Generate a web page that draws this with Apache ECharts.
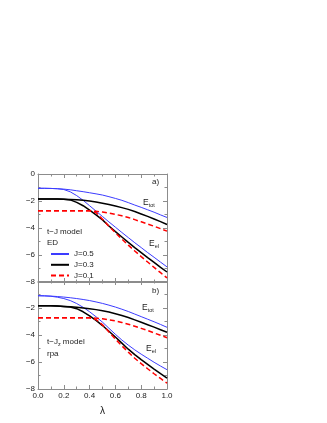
<!DOCTYPE html>
<html>
<head>
<meta charset="utf-8">
<script src="https://cdn.jsdelivr.net/npm/echarts@6/dist/echarts.min.js"></script>
<style>
  html, body { margin: 0; padding: 0; background: #fff; }
  #chart { width: 327px; height: 423px; }
</style>
</head>
<body>
<div id="chart"></div>
<script>
// lambda grid shared by all curves
const lambda = [0, 0.05, 0.1, 0.15, 0.2, 0.25, 0.3, 0.35, 0.4, 0.45, 0.5, 0.55, 0.6, 0.65, 0.7, 0.75, 0.8, 0.85, 0.9, 0.95, 1.0];

// panel a) t-J model, ED
const edTotJ05 = [-1.06, -1.06, -1.07, -1.09, -1.12, -1.17, -1.24, -1.31, -1.39, -1.47, -1.56, -1.68, -1.81, -1.95, -2.12, -2.30, -2.47, -2.65, -2.83, -3.03, -3.22];
const edElJ05 = [-1.06, -1.06, -1.07, -1.09, -1.15, -1.32, -1.60, -1.95, -2.35, -2.75, -3.15, -3.55, -3.94, -4.33, -4.71, -5.09, -5.45, -5.82, -6.17, -6.53, -6.88];
const edTotJ03 = [-1.86, -1.86, -1.86, -1.86, -1.87, -1.88, -1.90, -1.95, -2.00, -2.07, -2.16, -2.26, -2.37, -2.49, -2.62, -2.78, -2.96, -3.14, -3.33, -3.53, -3.74];
const edElJ03 = [-1.86, -1.86, -1.86, -1.86, -1.87, -1.92, -2.10, -2.35, -2.68, -3.03, -3.40, -3.85, -4.27, -4.67, -5.07, -5.45, -5.82, -6.19, -6.55, -6.91, -7.26];
const edTotJ01 = [-2.72, -2.72, -2.72, -2.72, -2.72, -2.72, -2.72, -2.72, -2.73, -2.76, -2.82, -2.90, -2.99, -3.10, -3.22, -3.38, -3.54, -3.70, -3.87, -4.05, -4.23];
const edElJ01 = [-2.72, -2.72, -2.72, -2.72, -2.72, -2.72, -2.72, -2.72, -2.73, -2.85, -3.35, -3.88, -4.35, -4.82, -5.27, -5.70, -6.12, -6.52, -6.92, -7.31, -7.70];

// panel b) t-Jz model, rpa
const rpaTotJ05 = [-1.09, -1.10, -1.12, -1.15, -1.19, -1.24, -1.30, -1.37, -1.45, -1.55, -1.66, -1.79, -1.93, -2.09, -2.26, -2.45, -2.64, -2.83, -3.02, -3.22, -3.43];
const rpaElJ05 = [-1.09, -1.10, -1.13, -1.20, -1.30, -1.45, -1.67, -1.95, -2.28, -2.65, -3.05, -3.50, -3.95, -4.37, -4.75, -5.10, -5.42, -5.72, -6.02, -6.30, -6.57];
const rpaTotJ03 = [-1.83, -1.83, -1.84, -1.86, -1.88, -1.91, -1.95, -2.00, -2.05, -2.12, -2.20, -2.30, -2.42, -2.55, -2.70, -2.88, -3.06, -3.24, -3.42, -3.61, -3.80];
const rpaElJ03 = [-1.83, -1.83, -1.84, -1.86, -1.88, -1.93, -2.05, -2.28, -2.58, -2.92, -3.30, -3.72, -4.15, -4.60, -5.05, -5.45, -5.82, -6.17, -6.52, -6.86, -7.19];
const rpaTotJ01 = [-2.72, -2.72, -2.72, -2.72, -2.72, -2.72, -2.72, -2.72, -2.73, -2.75, -2.80, -2.87, -2.96, -3.07, -3.20, -3.35, -3.51, -3.67, -3.85, -4.02, -4.20];
const rpaElJ01 = [-2.72, -2.72, -2.72, -2.72, -2.72, -2.72, -2.72, -2.72, -2.73, -2.85, -3.25, -3.78, -4.30, -4.80, -5.27, -5.72, -6.12, -6.50, -6.87, -7.22, -7.56];

const jNames = ['J=0.5', 'J=0.3', 'J=0.1'];

const font = 'Liberation Sans, Arial, sans-serif';
const axisGray = '#8c8c8c';
const styles = {
    'J=0.5': { color: '#3c3cff', width: 1, type: 'solid' },
    'J=0.3': { color: '#000000', width: 1.5, type: 'solid' },
    'J=0.1': { color: '#ff0000', width: 1.5, type: [5, 3] }
};

function pairs(ys) {
    return lambda.map(function (x, i) { return [x, ys[i]]; });
}

function makeSeries(name, ys, idx) {
    let s = styles[name];
    return {
        name: name,
        type: 'line',
        xAxisIndex: idx,
        yAxisIndex: idx,
        data: pairs(ys),
        showSymbol: false,
        symbol: 'none',
        silent: true,
        animation: false,
        itemStyle: { color: s.color },
        lineStyle: { color: s.color, width: s.width, type: s.type }
    };
}

function minus(v) {
    return v < 0 ? '\u2212' + (-v) : String(v);
}

function xAxisDef(grid, pos, showLabels) {
    return {
        type: 'value', gridIndex: grid, position: pos, min: 0, max: 1, interval: 0.2,
        axisLine: { show: true, onZero: false, lineStyle: { color: axisGray, width: 1 } },
        axisTick: { show: true, inside: true, length: 4, lineStyle: { color: axisGray } },
        minorTick: { show: true, splitNumber: 2, length: 2.5, lineStyle: { color: axisGray } },
        splitLine: { show: false },
        axisLabel: {
            show: showLabels, margin: 3, fontSize: 8, color: '#222', fontFamily: font,
            formatter: function (v) { return v.toFixed(1); }
        },
        name: showLabels ? 'λ' : '',
        nameLocation: 'middle', nameGap: 17,
        nameTextStyle: { fontSize: 10, color: '#222', fontFamily: font }
    };
}

function yAxisDef(grid, pos, showLabels, hideZero) {
    return {
        type: 'value', gridIndex: grid, position: pos, min: -8, max: 0, interval: 2,
        axisLine: { show: true, onZero: false, lineStyle: { color: axisGray, width: 1 } },
        axisTick: { show: true, inside: true, length: 4, lineStyle: { color: axisGray } },
        minorTick: { show: true, splitNumber: 2, length: 2.5, lineStyle: { color: axisGray } },
        splitLine: { show: false },
        axisLabel: {
            show: showLabels, margin: 3, fontSize: 8, color: '#222', fontFamily: font,
            formatter: function (v) { return (hideZero && v === 0) ? '' : minus(v); }
        }
    };
}

function eLabel(x, y, sub) {
    return {
        type: 'text', left: x, top: y,
        style: {
            text: '{e|E}{s|' + sub + '}',
            fontFamily: font,
            fill: '#222',
            rich: {
                e: { fontSize: 8.5, lineHeight: 11, fontFamily: font, fill: '#222' },
                s: { fontSize: 5.5, lineHeight: 5, verticalAlign: 'bottom', fontFamily: font, fill: '#222' }
            }
        }
    };
}

function plainText(x, y, txt, size) {
    return {
        type: 'text', left: x, top: y,
        style: { text: txt, fontSize: size || 8, fontFamily: font, fill: '#222' }
    };
}

let series = [
    makeSeries('J=0.5', edTotJ05, 0), makeSeries('J=0.5', edElJ05, 0),
    makeSeries('J=0.3', edTotJ03, 0), makeSeries('J=0.3', edElJ03, 0),
    makeSeries('J=0.1', edTotJ01, 0), makeSeries('J=0.1', edElJ01, 0),
    makeSeries('J=0.5', rpaTotJ05, 2), makeSeries('J=0.5', rpaElJ05, 2),
    makeSeries('J=0.3', rpaTotJ03, 2), makeSeries('J=0.3', rpaElJ03, 2),
    makeSeries('J=0.1', rpaTotJ01, 2), makeSeries('J=0.1', rpaElJ01, 2)
];

let option = {
    backgroundColor: '#ffffff',
    animation: false,
    grid: [
        { left: 38, top: 174, width: 129, height: 108 },
        { left: 38, top: 281, width: 129, height: 108 }
    ],
    xAxis: [
        xAxisDef(0, 'bottom', false), xAxisDef(0, 'top', false),
        xAxisDef(1, 'bottom', true), xAxisDef(1, 'top', false)
    ],
    yAxis: [
        yAxisDef(0, 'left', true, false), yAxisDef(0, 'right', false, false),
        yAxisDef(1, 'left', true, true), yAxisDef(1, 'right', false, false)
    ],
    legend: {
        data: jNames,
        orient: 'vertical',
        left: 50, top: 250,
        padding: 0,
        itemWidth: 18, itemHeight: 8, itemGap: 2.8,
        itemStyle: { opacity: 0 },
        textStyle: { fontSize: 8, color: '#222', fontFamily: font },
        selectedMode: false
    },
    graphic: [
        plainText(152, 178, 'a)'),
        plainText(152, 287, 'b)'),
        plainText(47, 228, 't\u2212J model'),
        plainText(47, 238.5, 'ED'),
        {
            type: 'text', left: 47, top: 338,
            style: {
                text: '{m|t\u2212J}{s|z}{m| model}',
                fontFamily: font, fill: '#222',
                rich: {
                    m: { fontSize: 8, lineHeight: 10, fontFamily: font, fill: '#222' },
                    s: { fontSize: 5.5, lineHeight: 5, verticalAlign: 'bottom', fontFamily: font, fill: '#222' }
                }
            }
        },
        plainText(47, 349.5, 'rpa'),
        eLabel(143, 198, 'tot'),
        eLabel(149, 239, 'el'),
        eLabel(142, 303, 'tot'),
        eLabel(146, 344, 'el')
    ],
    series: series
};

let chart = echarts.init(document.getElementById('chart'), null, { renderer: 'canvas' });
chart.setOption(option);
</script>
</body>
</html>
